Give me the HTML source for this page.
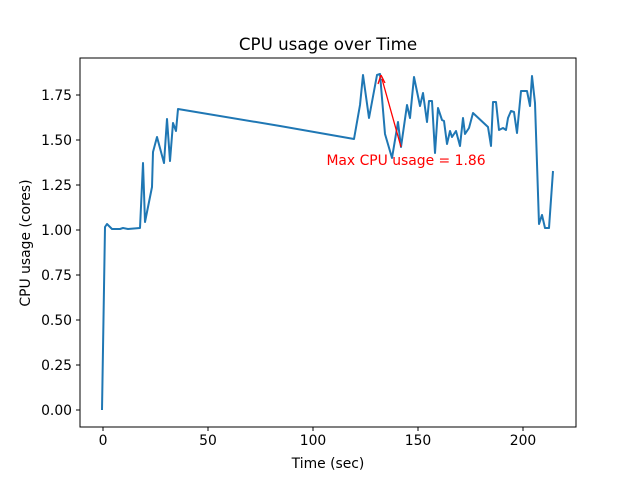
<!DOCTYPE html>
<html><head><meta charset="utf-8"><style>body{margin:0;background:#fff}svg{display:block}</style></head><body>
<svg width="640" height="480" xmlns="http://www.w3.org/2000/svg" font-family="DejaVu Sans, Liberation Sans, sans-serif">
<rect width="640" height="480" fill="#fff"/>
<polyline fill="none" stroke="#1f77b4" stroke-width="2" stroke-linejoin="round" points="102,410 105,227 107,224 112,229 120,229 123,228 128,229 140,228 143,163 145,222 152,187 153,152 157,137 164,163 167,119 170,161 173,123 176,131 178,109 280,126 354,139 360,105 363,75 369,118 377,75 380,74 385,134 392,158 398,122 401,147 407,105 410,118 414,77 420,106 423,93 427,122 429,101 432,101 435,153 438,108 442,120 444,121 447,144 450,131 452,137 456,131 460,146 463,118 465,134 469,128 473,113 488,127 491,146 493,102 496,102 499,130 503,128 506,130 508,118 511,111 514,112 517,133 521,91 523,91 527,91 530,106 532,76 535,103 539,224 542,215 545,228 549,228 553,171"/>
<line x1="401" y1="147" x2="382" y2="79" stroke="red" stroke-width="1.3"/>
<path d="M381,75 L378,84 M381,75 L385,83" stroke="red" stroke-width="1.3" fill="none"/>
<text x="406" y="165" font-size="13.9" fill="red" text-anchor="middle">Max CPU usage = 1.86</text>
<rect x="80" y="58" width="496" height="369" fill="none" stroke="#000" stroke-width="1"/>
<g stroke="#000" stroke-width="1">
<line x1="103" y1="427" x2="103" y2="431"/><line x1="208" y1="427" x2="208" y2="431"/><line x1="313" y1="427" x2="313" y2="431"/><line x1="418" y1="427" x2="418" y2="431"/><line x1="523" y1="427" x2="523" y2="431"/>
<line x1="76" y1="410" x2="80" y2="410"/><line x1="76" y1="365" x2="80" y2="365"/><line x1="76" y1="320" x2="80" y2="320"/><line x1="76" y1="275" x2="80" y2="275"/><line x1="76" y1="230" x2="80" y2="230"/><line x1="76" y1="185" x2="80" y2="185"/><line x1="76" y1="140" x2="80" y2="140"/><line x1="76" y1="95" x2="80" y2="95"/>
</g>
<g font-size="13.9" fill="#000" text-anchor="middle">
<text x="103" y="445">0</text><text x="208" y="445">50</text><text x="313" y="445">100</text><text x="418" y="445">150</text><text x="523" y="445">200</text>
</g>
<g font-size="13.9" fill="#000" text-anchor="end">
<text x="72" y="415">0.00</text><text x="72" y="370">0.25</text><text x="72" y="325">0.50</text><text x="72" y="280">0.75</text><text x="72" y="235">1.00</text><text x="72" y="190">1.25</text><text x="72" y="145">1.50</text><text x="72" y="100">1.75</text>
</g>
<text x="328" y="468" font-size="13.9" text-anchor="middle">Time (sec)</text>
<text transform="translate(30,243) rotate(-90)" font-size="13.9" text-anchor="middle">CPU usage (cores)</text>
<text x="328" y="50" font-size="16.7" text-anchor="middle">CPU usage over Time</text>
</svg>
</body></html>
